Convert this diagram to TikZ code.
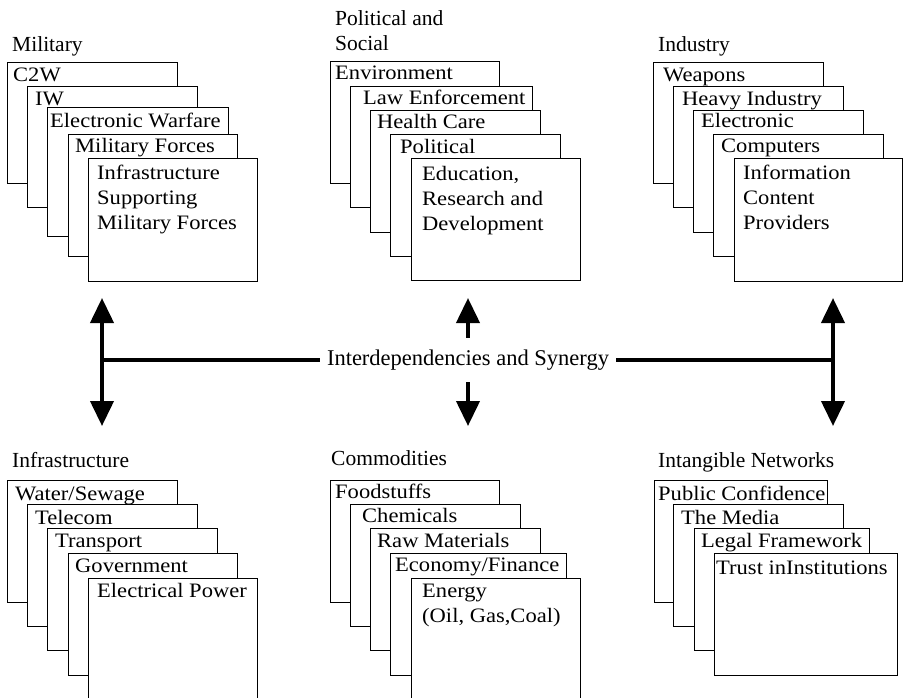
\documentclass[tikz,border=0pt]{standalone}
\usepackage{fontspec}
\setmainfont{Liberation Serif}
\newfontfamily\cardfont[FakeStretch=1.1]{Liberation Serif}
\usetikzlibrary{arrows.meta}

% a card of a stack: name, left, top, right, bottom (pixel-like units, y downwards)
\newcommand\cardbox[5]{\node[card, minimum width={#4-#2}, minimum height={#5-#3}] (#1) at (#2,#3) {};}

\begin{document}
\begin{tikzpicture}[x=1pt, y=-1pt,
  card/.style={draw, fill=white, line width=1.2pt, inner sep=0pt, anchor=north west},
  cardtxt/.style={anchor=base west, inner sep=0pt, font=\cardfont\fontsize{20.5}{25}\selectfont},
  grouptitle/.style={anchor=base west, inner sep=0pt, font=\fontsize{21.5}{25}\selectfont},
  link/.style={line width=4pt},
  tip/.style={-{Triangle[width=23pt,length=25pt]}},
  twotip/.style={{Triangle[width=23pt,length=25pt]}-{Triangle[width=23pt,length=25pt]}}
]
\useasboundingbox (0,0) rectangle (903,697);
\fill[white] (0,0) rectangle (903,697);

% ---------------- Military ----------------
\node[grouptitle] (milT) at (12,51) {Military};
\cardbox{mil1}{7}{62}{177}{183}
\node[cardtxt] (mil1t) at (13,81) {C2W};
\cardbox{mil2}{27}{86}{197}{207}
\node[cardtxt] (mil2t) at (35,105) {IW};
\cardbox{mil3}{47}{107}{228}{236}
\node[cardtxt] (mil3t) at (50,127) {Electronic Warfare};
\cardbox{mil4}{68}{134}{237}{256}
\node[cardtxt] (mil4t) at (75,152) {Military Forces};
\cardbox{mil5}{88}{158}{257}{281}
\node[cardtxt] (mil5t) at (97,179) {\begin{tabular}[t]{@{}l@{}}Infrastructure\\Supporting\\Military Forces\end{tabular}};

% ---------------- Political and Social ----------------
\node[grouptitle] (polT) at (335,25) {\begin{tabular}[t]{@{}l@{}}Political and\\Social\end{tabular}};
\cardbox{pol1}{330}{61}{499}{183}
\node[cardtxt] (pol1t) at (335,79) {Environment};
\cardbox{pol2}{350}{86}{532}{207}
\node[cardtxt] (pol2t) at (363,104) {Law Enforcement};
\cardbox{pol3}{370}{110}{540}{232}
\node[cardtxt] (pol3t) at (377,128) {Health Care};
\cardbox{pol4}{390}{134}{560}{256}
\node[cardtxt] (pol4t) at (400,153) {Political};
\cardbox{pol5}{411}{158}{580}{280}
\node[cardtxt] (pol5t) at (422,180) {\begin{tabular}[t]{@{}l@{}}Education,\\Research and\\Development\end{tabular}};

% ---------------- Industry ----------------
\node[grouptitle] (indT) at (658,51) {Industry};
\cardbox{ind1}{653}{62}{823}{183}
\node[cardtxt] (ind1t) at (663,81) {Weapons};
\cardbox{ind2}{673}{86}{843}{207}
\node[cardtxt] (ind2t) at (682,105) {Heavy Industry};
\cardbox{ind3}{693}{110}{863}{232}
\node[cardtxt] (ind3t) at (701,127) {Electronic};
\cardbox{ind4}{713}{134}{883}{256}
\node[cardtxt] (ind4t) at (721,152) {Computers};
\cardbox{ind5}{734}{158}{902}{281}
\node[cardtxt] (ind5t) at (743,179) {\begin{tabular}[t]{@{}l@{}}Information\\Content\\Providers\end{tabular}};

% ---------------- Infrastructure ----------------
\node[grouptitle] (infT) at (12,467) {Infrastructure};
\cardbox{inf1}{7}{480}{177}{602}
\node[cardtxt] (inf1t) at (15,500) {Water/Sewage};
\cardbox{inf2}{27}{504}{197}{626}
\node[cardtxt] (inf2t) at (35,524) {Telecom};
\cardbox{inf3}{47}{528}{217}{650}
\node[cardtxt] (inf3t) at (55,547) {Transport};
\cardbox{inf4}{68}{553}{237}{675}
\node[cardtxt] (inf4t) at (75,572) {Government};
\cardbox{inf5}{88}{578}{257}{705}
\node[cardtxt] (inf5t) at (97,597) {Electrical Power};

% ---------------- Commodities ----------------
\node[grouptitle] (comT) at (331,465) {Commodities};
\cardbox{com1}{330}{480}{499}{602}
\node[cardtxt] (com1t) at (335,498) {Foodstuffs};
\cardbox{com2}{350}{504}{520}{626}
\node[cardtxt] (com2t) at (362,522) {Chemicals};
\cardbox{com3}{370}{528}{540}{650}
\node[cardtxt] (com3t) at (377,547) {Raw Materials};
\cardbox{com4}{390}{553}{566}{675}
\node[cardtxt] (com4t) at (395,571) {Economy/Finance};
\cardbox{com5}{411}{578}{580}{705}
\node[cardtxt] (com5t) at (422,597) {\begin{tabular}[t]{@{}l@{}}Energy\\(Oil, Gas,Coal)\end{tabular}};

% ---------------- Intangible Networks ----------------
\node[grouptitle] (intT) at (658,467) {Intangible Networks};
\cardbox{int1}{654}{480}{827}{602}
\node[cardtxt] (int1t) at (658,500) {Public Confidence};
\cardbox{int2}{673}{504}{843}{626}
\node[cardtxt] (int2t) at (681,524) {The Media};
\cardbox{int3}{694}{528}{869}{650}
\node[cardtxt] (int3t) at (701,547) {Legal Framework};
\cardbox{int4}{714}{553}{897}{675}
\node[cardtxt] (int4t) at (716,574) {Trust inInstitutions};

% ---------------- central connector ----------------
\node[inner xsep=7pt, inner ysep=0pt, minimum height=44pt, font=\fontsize{22.5}{27}\selectfont]
  (syn) at (468,360) {Interdependencies and Synergy};

\coordinate (leftUp)   at (102,298);
\coordinate (leftDown) at (102,426);
\coordinate (leftMid)  at (102,360);
\coordinate (rightUp)   at (833,298);
\coordinate (rightDown) at (833,426);
\coordinate (rightMid)  at (833,360);
\coordinate (midUp)   at (468,298);
\coordinate (midDown) at (468,426);

\draw[link, twotip] (leftDown) -- (leftUp);
\draw[link, twotip] (rightDown) -- (rightUp);
\draw[link] (leftMid) -- (syn.west);
\draw[link] (syn.east) -- (rightMid);
\draw[link, tip] (syn.north) -- (midUp);
\draw[link, tip] (syn.south) -- (midDown);
\end{tikzpicture}
\end{document}
